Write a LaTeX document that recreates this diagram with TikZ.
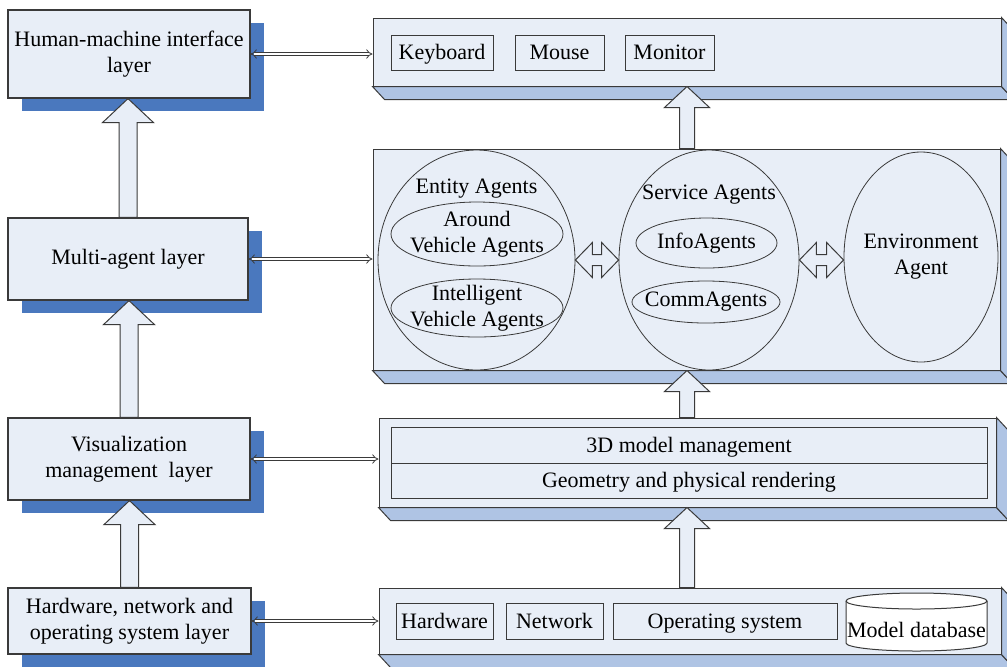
\documentclass[tikz,border=0pt]{standalone}
\usepackage{fontspec}
\setmainfont{Liberation Serif}
\usetikzlibrary{arrows.meta,shapes.geometric,shadows,calc,positioning}

\definecolor{boxfill}{HTML}{E8EEF7}
\definecolor{shadowblue}{HTML}{4A78BE}
\definecolor{slabblue}{HTML}{AFC4E4}
\definecolor{edgegray}{HTML}{3A3A3A}

\tikzset{
  layer/.style={draw=edgegray, fill=boxfill, line width=0.6pt, align=center, inner sep=0pt,
    general shadow={fill=shadowblue, shadow xshift=7pt, shadow yshift=-6.5pt}},
  panel/.style={draw=edgegray, fill=boxfill, line width=0.5pt, inner sep=0pt},
  item/.style={draw=edgegray, fill=boxfill, line width=0.5pt, inner sep=0pt, minimum height=17.5pt,
    text height=9pt, text depth=2pt},
  agent/.style={draw=edgegray, ellipse, line width=0.4pt, inner sep=0pt},
  slabface/.style={draw=edgegray, fill=slabblue, line width=0.5pt},
  blockarr/.style={draw=edgegray, fill=boxfill, line width=0.5pt},
  link/.style={draw=edgegray, line width=0.4pt, double=white, double distance=1.2pt, {Implies}-{Implies}},
}

% front panel with its bottom and right faces
\newcommand{\slab}[1]{%
  \draw[slabface] (#1.south west) -- (#1.south east) -- ([shift={(12,13)}]#1.south east) -- ([shift={(12,13)}]#1.south west) -- cycle;
  \draw[slabface] (#1.north east) -- ([shift={(12,13)}]#1.north east) -- ([shift={(12,13)}]#1.south east) -- (#1.south east) -- cycle;}

% hollow up arrow: bottom, top, half shaft, half head, head length
\newcommand{\blockup}[5]{%
  \draw[blockarr] let \p1=#1, \p2=#2 in
    (\x1-#3,\y1) -- (\x1-#3,\y2-#5) -- (\x1-#4,\y2-#5) -- (\x1,\y2) -- (\x1+#4,\y2-#5) -- (\x1+#3,\y2-#5) -- (\x1+#3,\y1) -- cycle;}

% hollow double arrow between two points
\newcommand{\twinarrow}[2]{%
  \draw[blockarr] let \p1=#1, \p2=#2 in
    (\x1,\y1) -- (\x1+8.5pt,\y1+8.75pt) -- (\x1+8.5pt,\y1+2.75pt) -- (\x2-8.5pt,\y1+2.75pt) -- (\x2-8.5pt,\y1+8.75pt)
    -- (\x2,\y1) -- (\x2-8.5pt,\y1-8.75pt) -- (\x2-8.5pt,\y1-2.75pt) -- (\x1+8.5pt,\y1-2.75pt) -- (\x1+8.5pt,\y1-8.75pt) -- cycle;}

\begin{document}
\begin{tikzpicture}[x=0.5pt, y=-0.5pt, font=\fontsize{11}{13}\selectfont]
\useasboundingbox (0,0) rectangle (1007,666);

% layers
\node[layer, minimum width=121pt, minimum height=44pt] (hmi) at (129,54) {Human-machine interface\\layer};
\node[layer, minimum width=120pt, minimum height=41pt] (mas) at (128,259) {Multi-agent layer};
\node[layer, minimum width=121pt, minimum height=41pt] (vis) at (129,459) {Visualization\\management\ \ layer};
\node[layer, minimum width=121.5pt, minimum height=33pt] (hw) at (129.5,621) {Hardware, network and\\operating system layer};

% panels
\node[panel, minimum width=314pt, minimum height=34pt] (dev) at (687,52) {};
\slab{dev}
\node[panel, minimum width=313.5pt, minimum height=110.5pt] (agt) at (686.5,259.5) {};
\slab{agt}
\node[panel, minimum width=308.5pt, minimum height=44.5pt] (vpan) at (687.5,462.5) {};
\slab{vpan}
\node[panel, minimum width=311pt, minimum height=33pt] (bpan) at (690,621) {};
\slab{bpan}

% devices
\node[item, minimum width=51pt] (kbd) at (442,52.5) {Keyboard};
\node[item, minimum width=44.5pt] (mouse) at (559.5,52.5) {Mouse};
\node[item, minimum width=44.5pt] (mon) at (669.5,52.5) {Monitor};

% agents
\node[agent, minimum width=98.5pt, minimum height=110pt] (ent) at (476.5,260) {};
\node (enttext) at (476.5,189) {Entity Agents};
\node[agent, minimum width=86pt, minimum height=32pt, label={[align=center]center:Around\\Vehicle Agents}] (around) at (477,234) {};
\node[agent, minimum width=86pt, minimum height=29pt, label={[align=center]center:Intelligent\\Vehicle Agents}] (intel) at (477,308) {};
\node[agent, minimum width=90pt, minimum height=110pt] (svc) at (709,260) {};
\node (svctext) at (709,195) {Service Agents};
\node[agent, minimum width=70.5pt, minimum height=25pt, label=center:InfoAgents] (info) at (706.5,243) {};
\node[agent, minimum width=74pt, minimum height=21pt, label=center:CommAgents] (comm) at (706,302) {};
\node[agent, minimum width=77pt, minimum height=105pt, label={[align=center]center:Environment\\Agent}] (env) at (921,257) {};
\twinarrow{(ent.east)}{(svc.west)}
\twinarrow{(svc.east)}{(env.west)}

% visualization
\node[item, minimum width=298pt, minimum height=18pt] (model) at (689,445) {3D model management};
\node[item, minimum width=298pt, minimum height=17.5pt] (render) at (689,480.5) {Geometry and physical rendering};

% hardware
\node[item, minimum width=48.5pt, minimum height=18pt] (hwbox) at (444.5,621) {Hardware};
\node[item, minimum width=48.5pt, minimum height=18pt] (net) at (554.5,621) {Network};
\node[item, minimum width=112pt, minimum height=18pt] (os) at (725,621) {Operating system};
\coordinate (db) at (916.5,622);
\draw[draw=edgegray, fill=white, line width=0.5pt] (846,601) -- (846,643) arc[start angle=180, end angle=360, x radius=35.25pt, y radius=4pt]
  -- (987,601) arc[start angle=0, end angle=180, x radius=35.25pt, y radius=4pt] -- cycle;
\draw[draw=edgegray, line width=0.5pt] (846,601) arc[start angle=180, end angle=360, x radius=35.25pt, y radius=4pt];
\node (dbtext) at (916.5,630) {Model database};

% arrows
\blockup{(hw.north)}{(vis.south)}{4.5pt}{12.75pt}{12pt}
\blockup{(vis.north)}{(mas.south)}{4.5pt}{12.75pt}{12pt}
\blockup{(mas.north)}{(hmi.south)}{4.5pt}{12.75pt}{12pt}
\blockup{(bpan.north -| dev.south)}{(vpan.south)}{3.75pt}{11.25pt}{10.5pt}
\blockup{(vpan.north -| dev.south)}{(agt.south)}{3.75pt}{11.25pt}{10.5pt}
\blockup{(agt.north -| dev.south)}{(dev.south)}{3.75pt}{11.25pt}{10.5pt}

\draw[link] (hmi.east) -- (hmi.east -| dev.west);
\draw[link] (mas.east) -- (mas.east -| agt.west);
\draw[link] (vis.east) -- (vis.east -| vpan.west);
\draw[link] (hw.east) -- (hw.east -| bpan.west);
\end{tikzpicture}
\end{document}
